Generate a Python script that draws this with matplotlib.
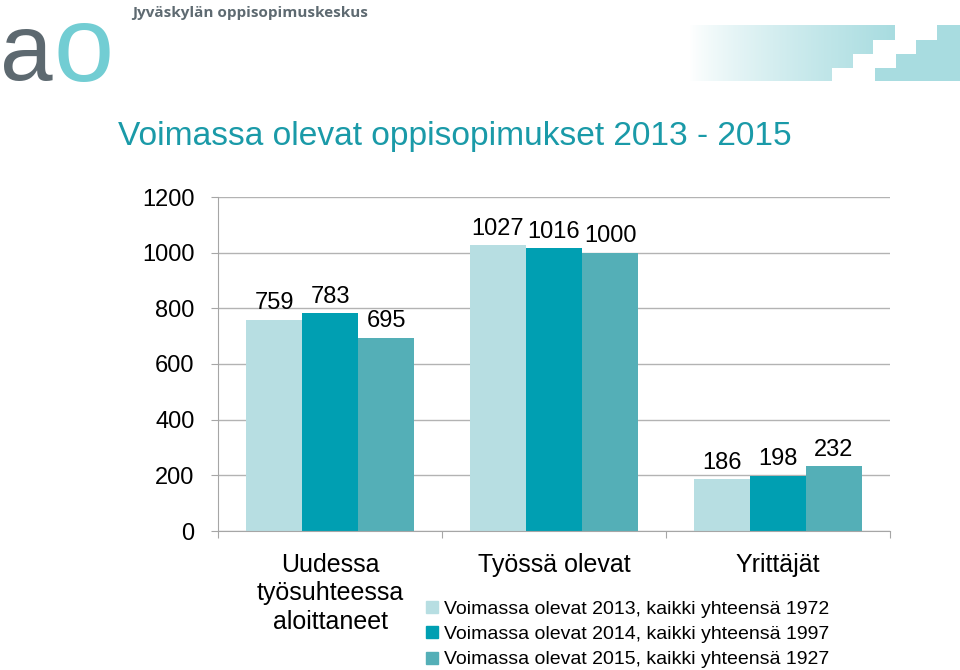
import numpy as np
import matplotlib.pyplot as plt
from matplotlib.patches import Polygon
from matplotlib.lines import Line2D

plt.rcParams['font.family'] = ['Liberation Sans', 'DejaVu Sans']

# data
categories = ['Uudessa\ntyösuhteessa\naloittaneet', 'Työssä olevat', 'Yrittäjät']
series_names = ['Voimassa olevat 2013, kaikki yhteensä 1972',
                'Voimassa olevat 2014, kaikki yhteensä 1997',
                'Voimassa olevat 2015, kaikki yhteensä 1927']
values_2013 = [759, 1027, 186]
values_2014 = [783, 1016, 198]
values_2015 = [695, 1000, 232]
yticks = [0, 200, 400, 600, 800, 1000, 1200]

colors = ['#b7dee2', '#009fb2', '#54afb7']
grey = '#a6a6a6'

W, H = 960, 670
fig = plt.figure(figsize=(W / 100, H / 100), dpi=100)

# decoration layer in pixel coordinates
deco = fig.add_axes([0, 0, 1, 1], zorder=0)
deco.set_xlim(0, W)
deco.set_ylim(H, 0)
deco.axis('off')

# logo
deco.text(0, 80, 'a', fontsize=68, color='#5d6970', va='baseline', ha='left')
deco.text(53, 81, 'o', fontsize=78, color='#72cdd3', va='baseline', ha='left')
deco.text(132, 17, 'Jyväskylän oppisopimuskeskus', fontsize=11, fontweight='bold',
          family='Open Sans', color='#5e6a71', va='baseline', ha='left')

# staircase graphic top right
stair_col = np.array([0xa8, 0xdc, 0xe0]) / 255
left_pts = [(690, 25), (895, 25), (895, 40), (873, 40), (873, 54), (853, 54),
            (853, 68), (832, 68), (832, 81), (690, 81)]
right_pts = [(937, 25), (960, 25), (960, 81), (875, 81), (875, 68), (896, 68),
             (896, 54), (916, 54), (916, 40), (937, 40)]
t = np.linspace(0, 1, 256) ** 0.8
grad = np.ones((1, 256, 3)) * (1 - t[None, :, None]) + stair_col * t[None, :, None]
im = deco.imshow(grad, extent=(690, 895, 81, 25), aspect='auto', interpolation='bilinear')
clip = Polygon(left_pts, closed=True, facecolor='none', edgecolor='none', transform=deco.transData)
deco.add_patch(clip)
im.set_clip_path(clip)
deco.add_patch(Polygon(right_pts, closed=True, facecolor=stair_col, edgecolor='none'))
deco.set_xlim(0, W)
deco.set_ylim(H, 0)

# title
fig.text(118 / W, 1 - 145 / H, 'Voimassa olevat oppisopimukset 2013 - 2015',
         fontsize=24.1, color='#1a9aa8', va='baseline', ha='left')

# chart
ax = fig.add_axes([218 / W, 1 - 531 / H, 672 / W, 334 / H], zorder=1)
ax.patch.set_alpha(0)
x = np.arange(len(categories))
width = 0.25
for i, (vals, col) in enumerate(zip([values_2013, values_2014, values_2015], colors)):
    bars = ax.bar(x + (i - 1) * width, vals, width, color=col, zorder=2, label=series_names[i])
    for b, v in zip(bars, vals):
        ax.annotate(str(v), (b.get_x() + b.get_width() / 2, v), xytext=(0, 4),
                    textcoords='offset points', ha='center', va='bottom', fontsize=17)

ax.set_xlim(-0.5, 2.5)
ax.set_ylim(0, 1200)
ax.set_yticks(yticks)
ax.tick_params(axis='y', labelsize=17, length=5, color=grey, pad=12)
ax.yaxis.grid(True, color='#b3b3b3', lw=1, zorder=0)
ax.set_axisbelow(True)

ax.set_xticks([-0.5, 0.5, 1.5, 2.5])
ax.set_xticklabels([])
ax.tick_params(axis='x', which='major', length=5, color=grey)
ax.set_xticks(x, minor=True)
ax.set_xticklabels(categories, minor=True, fontsize=18, linespacing=1.25)
ax.tick_params(axis='x', which='minor', length=0, pad=15.5)

for s in ['top', 'right']:
    ax.spines[s].set_visible(False)
ax.spines['left'].set_color(grey)
ax.spines['bottom'].set_color(grey)

handles = [Line2D([], [], marker='s', ls='none', markersize=8, color=c) for c in colors]
fig.legend(handles, series_names, loc='upper left', bbox_to_anchor=(426 / W, 1 - 600 / H),
           frameon=False, fontsize=14, handlelength=0.6, handletextpad=0.3,
           labelspacing=0.4, borderaxespad=0, borderpad=0)

fig.savefig('out.png', dpi=100)
